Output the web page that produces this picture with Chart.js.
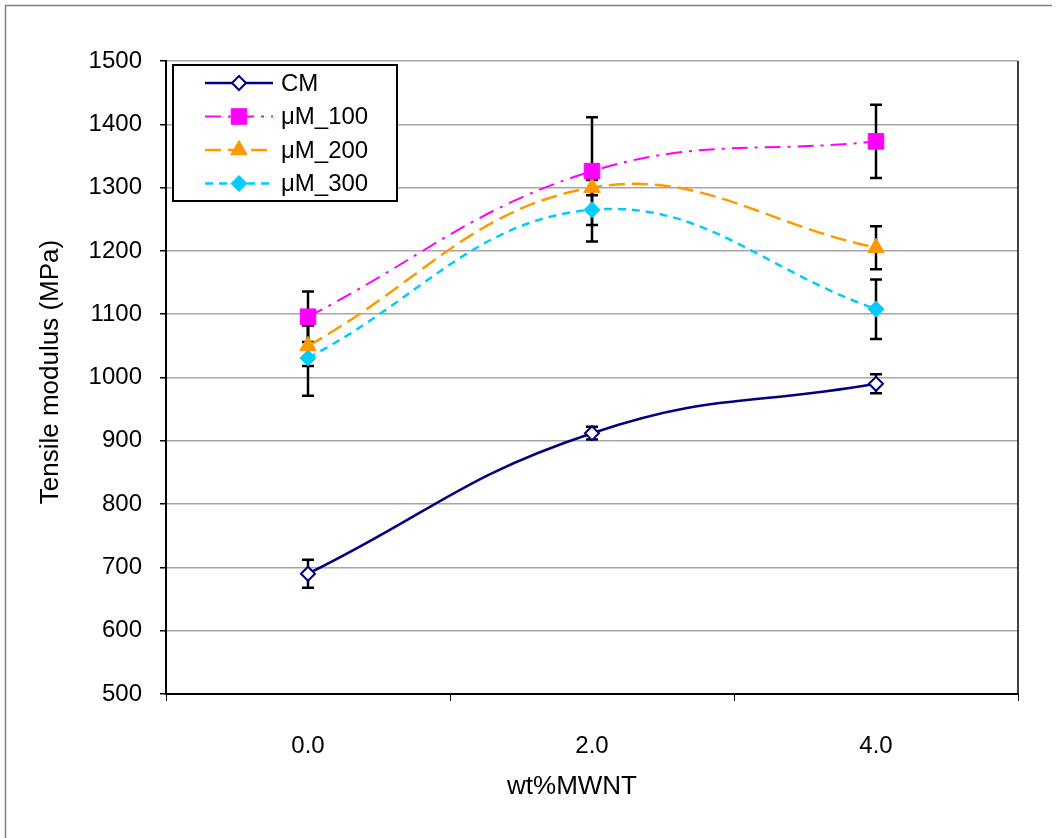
<!DOCTYPE html>
<html>
<head>
<meta charset="utf-8">
<script src="https://cdn.jsdelivr.net/npm/chart.js@4/dist/chart.umd.min.js"></script>
<style>
  body { margin: 0; background: #fff; }
  #wrap { width: 1057px; height: 838px; }
</style>
</head>
<body>
<div id="wrap"><canvas id="tensile-chart" width="1057" height="838"></canvas></div>
<script>
// data
const categories = ['0.0', '2.0', '4.0'];
const seriesNames = ['CM', 'μM_100', 'μM_200', 'μM_300'];
const cm = [690, 912, 990];
const cmErr = [22, 10, 15];
const m100 = [1096, 1326, 1373];
const m100Err = [40, 85, 58];
const m200 = [1050, 1300, 1205];
const m200Err = [32, 12, 34];
const m300 = [1031, 1265, 1108];
const m300Err = [60, 50, 47];
const yTicks = [500, 600, 700, 800, 900, 1000, 1100, 1200, 1300, 1400, 1500];

const FONT = "'Liberation Sans', Arial, sans-serif";
Chart.defaults.font.family = FONT;
Chart.defaults.color = '#000';

const errors = [cmErr, m100Err, m200Err, m300Err];

// error bars, drawn before the markers
const errorBars = {
  id: 'errorBars',
  beforeDatasetsDraw(chart) {
    const ctx = chart.ctx;
    const x = chart.scales.x, y = chart.scales.y;
    ctx.save();
    ctx.strokeStyle = '#000';
    ctx.lineWidth = 2.5;
    chart.data.datasets.forEach((ds, i) => {
      ds.data.forEach((v, j) => {
        const px = x.getPixelForValue(j);
        const top = y.getPixelForValue(v + errors[i][j]);
        const bot = y.getPixelForValue(v - errors[i][j]);
        ctx.beginPath();
        ctx.moveTo(px, top); ctx.lineTo(px, bot);
        ctx.moveTo(px - 6, top); ctx.lineTo(px + 6, top);
        ctx.moveTo(px - 6, bot); ctx.lineTo(px + 6, bot);
        ctx.stroke();
      });
    });
    ctx.restore();
  }
};

// frame, axis titles and the boxed legend
const decorations = {
  id: 'decorations',
  afterDraw(chart) {
    const ctx = chart.ctx;
    const a = chart.chartArea;
    ctx.save();
    // outer frame
    ctx.strokeStyle = '#808080';
    ctx.lineWidth = 1.5;
    ctx.beginPath();
    ctx.moveTo(5.5, 838); ctx.lineTo(5.5, 5.5); ctx.lineTo(1052, 5.5);
    ctx.stroke();
    // right border of plot area
    ctx.strokeStyle = '#000';
    ctx.lineWidth = 1.5;
    ctx.beginPath();
    ctx.moveTo(a.right, a.top); ctx.lineTo(a.right, a.bottom);
    ctx.stroke();

    // axis titles
    ctx.fillStyle = '#000';
    ctx.textAlign = 'center';
    ctx.textBaseline = 'middle';
    ctx.font = '26px ' + FONT;
    ctx.fillText('wt%MWNT', 572, 787);
    ctx.save();
    ctx.translate(51, 372);
    ctx.rotate(-Math.PI / 2);
    ctx.font = '26px ' + FONT;
    ctx.fillText('Tensile modulus (MPa)', 0, 0);
    ctx.restore();

    // legend
    ctx.fillStyle = '#fff';
    ctx.fillRect(173, 65, 224, 136);
    ctx.strokeStyle = '#000';
    ctx.lineWidth = 2;
    ctx.strokeRect(173, 65, 224, 136);
    chart.data.datasets.forEach((ds, i) => {
      const ly = 83 + i * 33.5;
      ctx.save();
      ctx.strokeStyle = ds.borderColor;
      ctx.lineWidth = ds.borderWidth;
      ctx.setLineDash(ds.borderDash || []);
      ctx.beginPath();
      ctx.moveTo(205, ly); ctx.lineTo(273, ly);
      ctx.stroke();
      ctx.setLineDash([]);
      ctx.fillStyle = ds.pointBackgroundColor;
      ctx.strokeStyle = ds.pointBorderColor;
      ctx.lineWidth = ds.pointBorderWidth;
      Chart.helpers.drawPoint(ctx, {
        pointStyle: ds.pointStyle, radius: ds.pointRadius,
        rotation: 0, borderWidth: ds.pointBorderWidth
      }, 239, ly);
      ctx.restore();
      ctx.fillStyle = '#000';
      ctx.textAlign = 'left';
      ctx.textBaseline = 'middle';
      ctx.font = '24px ' + FONT;
      ctx.fillText(seriesNames[i], 281, ly + 1);
    });
    ctx.restore();
  }
};

new Chart(
  document.getElementById('tensile-chart'),
  {
    type: 'line',
    data: {
      labels: categories,
      datasets: [
        {
          label: seriesNames[0],
          data: cm,
          borderColor: '#000080',
          borderWidth: 2.5,
          tension: 0.45,
          pointStyle: 'rectRot',
          pointRadius: 7,
          pointBackgroundColor: '#fff',
          pointBorderColor: '#000080',
          pointBorderWidth: 2
        },
        {
          label: seriesNames[1],
          data: m100,
          borderColor: '#ff00ff',
          borderWidth: 2,
          borderDash: [16, 7, 3, 7],
          tension: 0.4,
          pointStyle: 'rect',
          pointRadius: 11,
          pointBackgroundColor: '#ff00ff',
          pointBorderColor: '#ff00ff',
          pointBorderWidth: 1
        },
        {
          label: seriesNames[2],
          data: m200,
          borderColor: '#ff9900',
          borderWidth: 2.5,
          borderDash: [16, 7],
          tension: 0.4,
          pointStyle: 'triangle',
          pointRadius: 9.5,
          pointBackgroundColor: '#ff9900',
          pointBorderColor: '#ff9900',
          pointBorderWidth: 1
        },
        {
          label: seriesNames[3],
          data: m300,
          borderColor: '#00ccff',
          borderWidth: 2.5,
          borderDash: [8, 6],
          tension: 0.4,
          pointStyle: 'rectRot',
          pointRadius: 8,
          pointBackgroundColor: '#00ccff',
          pointBorderColor: '#00ccff',
          pointBorderWidth: 1
        }
      ]
    },
    options: {
      responsive: false,
      animation: false,
      layout: { padding: { left: 0, right: 39, top: 61, bottom: 0 } },
      plugins: {
        legend: { display: false },
        tooltip: { enabled: false }
      },
      scales: {
        x: {
          type: 'category',
          offset: true,
          afterFit: s => { s.height = 144; },
          border: { color: '#000', width: 2 },
          grid: {
            offset: true,
            drawOnChartArea: false,
            drawTicks: true,
            tickLength: 7,
            tickColor: '#000',
            tickWidth: 1
          },
          ticks: { font: { size: 24 }, padding: 31, color: '#000' }
        },
        y: {
          min: 500,
          max: 1500,
          afterFit: s => { s.width = 166; },
          afterBuildTicks: s => { s.ticks = yTicks.map(v => ({ value: v })); },
          border: { color: '#000', width: 2 },
          grid: {
            color: '#a6a6a6',
            lineWidth: 1.5,
            drawTicks: true,
            tickLength: 6,
            tickColor: '#000'
          },
          ticks: {
            font: { size: 24 },
            padding: 18,
            color: '#000',
            callback: v => String(v)
          }
        }
      }
    },
    plugins: [errorBars, decorations]
  }
);
</script>
</body>
</html>
